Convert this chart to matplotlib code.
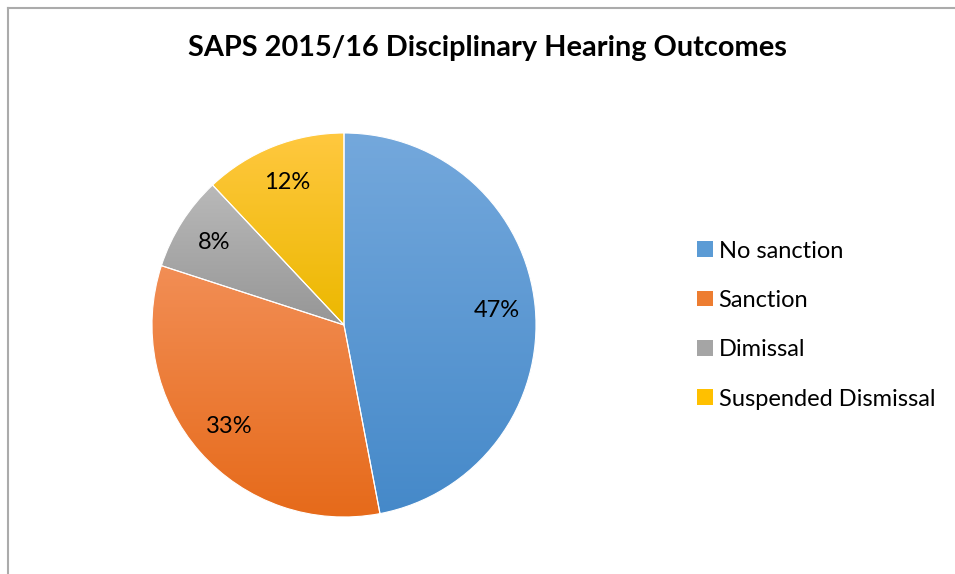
import numpy as np
import matplotlib
matplotlib.use("Agg")
import matplotlib.pyplot as plt
from matplotlib.lines import Line2D
from matplotlib.colors import to_rgb

plt.rcParams['font.family'] = ['Lato', 'DejaVu Sans']

# data
labels = ["No sanction", "Sanction", "Dimissal", "Suspended Dismissal"]
values = [47, 33, 8, 12]
# gradient colours (top, bottom) per slice
tops = ["#74a8dc", "#f28e55", "#b9b9b9", "#ffc83f"]
bottoms = ["#4589c9", "#e66a1a", "#969696", "#ecb800"]
mids = ["#5b9bd5", "#ed7d31", "#a5a5a5", "#ffc000"]

W, H = 955, 574
fig = plt.figure(figsize=(W / 100, H / 100), dpi=100)

# pie centre (344, 325) px, radius 192 px
cx, cy, r = 344, 325, 192
ax = fig.add_axes([(cx - r) / W, (H - cy - r) / H, 2 * r / W, 2 * r / H])

wedges, texts, autotexts = ax.pie(
    values, startangle=90, counterclock=False, radius=1,
    autopct="%1.0f%%", pctdistance=0.8,
    wedgeprops=dict(facecolor="none", edgecolor="white", linewidth=0.8),
    textprops=dict(fontsize=17, color="black"))

for w, t, b in zip(wedges, tops, bottoms):
    ext = w.get_path().get_extents(w.get_patch_transform())
    grad = np.linspace(0, 1, 256)[:, None, None]
    img = (1 - grad) * np.array(to_rgb(t)) + grad * np.array(to_rgb(b))
    im = ax.imshow(img, extent=[ext.x0, ext.x1, ext.y0, ext.y1],
                   origin="upper", aspect="auto", zorder=0, interpolation="bilinear")
    im.set_clip_path(w)

ax.set_xlim(-1, 1)
ax.set_ylim(-1, 1)
ax.set_aspect("equal")
ax.axis("off")

# legend
handles = [plt.Rectangle((0, 0), 1, 1, facecolor=c, edgecolor="none") for c in mids]
fig.legend(handles, labels, loc="center left", bbox_to_anchor=(688 / W, 1 - 325 / H),
           frameon=False, fontsize=17, handlelength=0.65, handleheight=0.65,
           handletextpad=0.25, labelspacing=1.2, borderaxespad=0)

fig.text(487 / W, 1 - 48 / H, "SAPS 2015/16 Disciplinary Hearing Outcomes",
         ha="center", va="center", fontsize=20.8, fontweight="bold")

# chart border (left and top)
fig.add_artist(Line2D([7.5 / W, 7.5 / W], [0, 1 - 8 / H], color="#ababab", lw=1.5))
fig.add_artist(Line2D([7.5 / W, 1], [1 - 8 / H, 1 - 8 / H], color="#ababab", lw=1.5))

fig.savefig("out.png", dpi=100)
